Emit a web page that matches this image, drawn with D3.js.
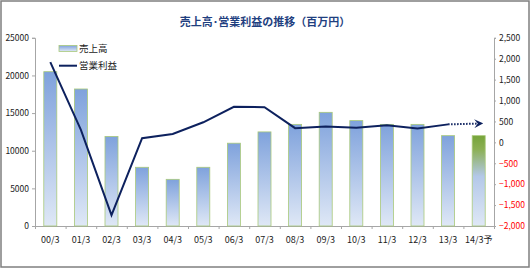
<!DOCTYPE html>
<html>
<head>
<meta charset="utf-8">
<script src="https://cdn.jsdelivr.net/npm/d3@7"></script>
<style>
  body { margin: 0; background: #fff; }
  text { font-family: "Noto Sans CJK JP", "Noto Sans", sans-serif; }
</style>
</head>
<body>
<div class="chart"></div>
<script>
const categories = ["00/3", "01/3", "02/3", "03/3", "04/3", "05/3", "06/3", "07/3",
  "08/3", "09/3", "10/3", "11/3", "12/3", "13/3", "14/3予"];
const sales = [20500, 18200, 11900, 7800, 6200, 7800, 11000, 12500,
  13500, 15100, 14000, 13500, 13500, 12000, 12000];
const profit = [1920, 300, -1740, 100, 200, 480, 850, 840,
  340, 380, 350, 410, 330, 430, 450];
const salesTicks = [0, 5000, 10000, 15000, 20000, 25000];
const profitTicks = [-2000, -1500, -1000, -500, 0, 500, 1000, 1500, 2000, 2500];

document.addEventListener("DOMContentLoaded", function () {
  const width = 530,
    height = 268;
  const left = 35,
    right = 494,
    top = 37.8,
    bottom = 226;

  const svg = d3
    .select(".chart")
    .append("svg")
    .attr("width", width)
    .attr("height", height);

  // gradients
  const defs = svg.append("defs");
  const blue = defs
    .append("linearGradient")
    .attr("id", "blueGrad")
    .attr("x1", 0).attr("y1", 0).attr("x2", 0).attr("y2", 1);
  blue.append("stop").attr("offset", "0%").attr("stop-color", "#7fa2dc");
  blue.append("stop").attr("offset", "100%").attr("stop-color", "#dfe8f6");

  const green = defs
    .append("linearGradient")
    .attr("id", "greenGrad")
    .attr("x1", 0).attr("y1", 0).attr("x2", 0).attr("y2", 1);
  green.append("stop").attr("offset", "0%").attr("stop-color", "#76a43a");
  green.append("stop").attr("offset", "15%").attr("stop-color", "#8cb054");
  green.append("stop").attr("offset", "45%").attr("stop-color", "#b3c8e8");
  green.append("stop").attr("offset", "100%").attr("stop-color", "#dfe8f6");

  // chevron arrow for the forecast segment
  defs
    .append("marker")
    .attr("id", "arrow")
    .attr("viewBox", "0 0 10 10")
    .attr("refX", 5)
    .attr("refY", 5)
    .attr("markerWidth", 4.5)
    .attr("markerHeight", 4.5)
    .attr("markerUnits", "strokeWidth")
    .attr("orient", "auto")
    .append("path")
    .attr("d", "M0,0 L10,5 L0,10 L4,5 Z")
    .attr("fill", "#0d215e");

  // border
  svg
    .append("rect")
    .attr("x", 1)
    .attr("y", 1)
    .attr("width", width - 2)
    .attr("height", height - 2)
    .attr("fill", "#fff")
    .attr("stroke", "#7f7f7f")
    .attr("stroke-width", 1.5);

  // title
  svg
    .append("text")
    .attr("x", 265)
    .attr("y", 26)
    .attr("text-anchor", "middle")
    .attr("font-size", 11)
    .attr("font-weight", "bold")
    .attr("fill", "#1f3f7f")
    .text("売上高･営業利益の推移（百万円）");

  // scales
  const xScale = d3
    .scaleBand()
    .domain(categories)
    .range([left, right])
    .paddingInner(0.575)
    .paddingOuter(0.2875);
  const yLeft = d3.scaleLinear().domain([0, 25000]).range([bottom, top]);
  const yRight = d3.scaleLinear().domain([-2000, 2500]).range([bottom, top]);
  const idx = d3.scaleLinear().domain([0, categories.length]).range([left, right]);

  // left axis
  const yAxisL = svg
    .append("g")
    .attr("transform", "translate(" + left + ",0)")
    .call(d3.axisLeft(yLeft).tickValues(salesTicks).tickFormat(d3.format("d")).tickSize(3).tickPadding(3));
  yAxisL.selectAll("text").attr("font-size", 8.5).attr("fill", "#222");

  // right axis
  const yAxisR = svg
    .append("g")
    .attr("transform", "translate(" + right + ",0)")
    .call(d3.axisRight(yRight).tickValues(profitTicks).tickFormat(d3.format(",")).tickSize(2).tickPadding(3));
  yAxisR
    .selectAll("text")
    .attr("font-size", 8.5)
    .attr("fill", (d) => (d < 0 ? "#ff0000" : "#222"));

  // x axis ticks at category edges
  svg
    .append("g")
    .attr("transform", "translate(0," + bottom + ")")
    .call(d3.axisBottom(idx).ticks(categories.length).tickFormat("").tickSize(3));

  svg
    .append("g")
    .selectAll("text")
    .data(categories)
    .enter()
    .append("text")
    .attr("x", (d) => xScale(d) + xScale.bandwidth() / 2)
    .attr("y", bottom + 17)
    .attr("text-anchor", "middle")
    .attr("font-size", 9)
    .attr("fill", "#222")
    .text((d) => d);

  svg.selectAll(".domain, .tick line").attr("stroke", "#a6a6a6");

  // bars
  svg
    .append("g")
    .selectAll("rect")
    .data(sales)
    .enter()
    .append("rect")
    .attr("x", (d, i) => xScale(categories[i]))
    .attr("y", (d) => yLeft(d))
    .attr("width", xScale.bandwidth())
    .attr("height", (d) => bottom - yLeft(d))
    .attr("fill", (d, i) => (i === sales.length - 1 ? "url(#greenGrad)" : "url(#blueGrad)"))
    .attr("stroke", "#a9c97a")
    .attr("stroke-width", 0.8);

  // profit line
  const pts = profit.map((v, i) => [xScale(categories[i]) + xScale.bandwidth() / 2, yRight(v)]);
  const line = d3.line();
  svg
    .append("path")
    .attr("d", line(pts.slice(0, pts.length - 1)))
    .attr("fill", "none")
    .attr("stroke", "#0d215e")
    .attr("stroke-width", 2);
  svg
    .append("path")
    .attr("d", line(pts.slice(pts.length - 2)))
    .attr("fill", "none")
    .attr("stroke", "#0d215e")
    .attr("stroke-width", 2)
    .attr("stroke-dasharray", "1.5,1.5")
    .attr("marker-end", "url(#arrow)");

  // legend
  const legend = svg.append("g");
  legend
    .append("rect")
    .attr("x", 59)
    .attr("y", 45.5)
    .attr("width", 18)
    .attr("height", 6)
    .attr("fill", "url(#blueGrad)")
    .attr("stroke", "#a9c97a")
    .attr("stroke-width", 0.8);
  legend
    .append("text")
    .attr("x", 79)
    .attr("y", 52)
    .attr("font-size", 9.5)
    .attr("fill", "#222")
    .text("売上高");
  legend
    .append("line")
    .attr("x1", 59)
    .attr("x2", 77)
    .attr("y1", 65.7)
    .attr("y2", 65.7)
    .attr("stroke", "#0d215e")
    .attr("stroke-width", 2);
  legend
    .append("text")
    .attr("x", 79)
    .attr("y", 69)
    .attr("font-size", 9.5)
    .attr("fill", "#222")
    .text("営業利益");
});
</script>
</body>
</html>
